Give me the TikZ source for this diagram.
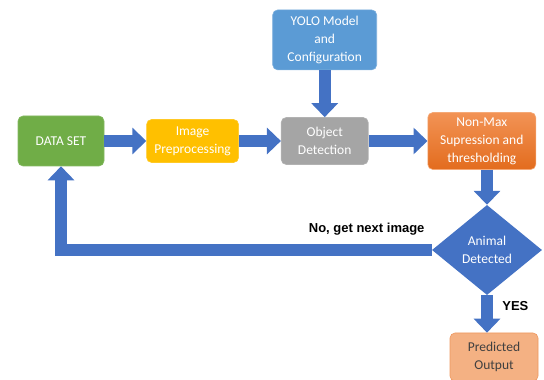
\documentclass[tikz,border=0pt]{standalone}
\usepackage{fontspec}
\setmainfont{Carlito}
\newfontfamily\lblfont{Liberation Sans}
\usetikzlibrary{arrows.meta,positioning,shapes.geometric}

\definecolor{dsgreen}{HTML}{70AD47}
\definecolor{prepyellow}{HTML}{FFC000}
\definecolor{yoloblue}{HTML}{5B9BD5}
\definecolor{objgray}{HTML}{A5A5A5}
\definecolor{nmstop}{HTML}{F29355}
\definecolor{nmsbot}{HTML}{E36C1E}
\definecolor{flowblue}{HTML}{4472C4}
\definecolor{outfill}{HTML}{F4B183}
\definecolor{outedge}{HTML}{EE9860}

\begin{document}
\begin{tikzpicture}[x=1pt,y=1pt,
    box/.style={rectangle, rounded corners=5pt, align=center, text=white,
      inner sep=2pt, line width=0.6pt, font=\fontsize{13.5}{18}\selectfont},
    flow/.style={draw=flowblue, line width=12pt,
      -{Triangle[width=26pt,length=14pt]}},
    tag/.style={font=\lblfont\bfseries\fontsize{13}{15}\selectfont, text=black}]
  \useasboundingbox (0,0) rectangle (544,380);

  % main pipeline, left to right
  \node [box, fill=dsgreen, draw=dsgreen!85!white, minimum width=86pt, minimum height=50pt] (data) at (61,239) {DATA SET};
  \node [box, fill=prepyellow, draw=prepyellow!85!white, minimum width=92pt, minimum height=43pt, right=42pt of data] (prep) {Image\\Preprocessing};
  \node [box, fill=objgray, draw=objgray!85!white, minimum width=87pt, minimum height=47pt, right=42pt of prep] (obj) {Object\\Detection};
  \node [box, top color=nmstop, bottom color=nmsbot, draw=nmstop!80!white, minimum width=108pt, minimum height=57pt, right=59pt of obj] (nms) {Non-Max\\Supression and\\thresholding};
  \node [box, fill=yoloblue, draw=yoloblue!80!white, minimum width=104pt, minimum height=60pt, above=47pt of obj] (yolo) {YOLO Model\\and\\Configuration};

  % decision and result
  \node [diamond, aspect=1.2, fill=flowblue, text=white, align=center, inner sep=0pt,
    minimum width=110pt, minimum height=90pt, font=\fontsize{13.5}{18}\selectfont] (dec) at (487,130) {Animal\\Detected};
  \node [box, fill=outfill, draw=outedge, text=black!75, minimum width=88pt, minimum height=48pt] (out) at (494,23) {Predicted\\Output};

  \draw [flow] (data) -- (prep);
  \draw [flow] (prep) -- (obj);
  \draw [flow] (obj) -- (nms);
  \draw [flow] (yolo) -- (obj);
  \draw [flow] (nms.south -| dec.north) -- (dec.north);
  \draw [flow] (dec.south) -- node [tag, right, pos=0.3, xshift=6pt] {YES} (dec.south |- out.north);
  \draw [flow] (dec.west) -- node [tag, above left, pos=0, xshift=2pt, yshift=5pt] {No, get next image} (dec.west -| data.south) -- (data.south);
\end{tikzpicture}
\end{document}
